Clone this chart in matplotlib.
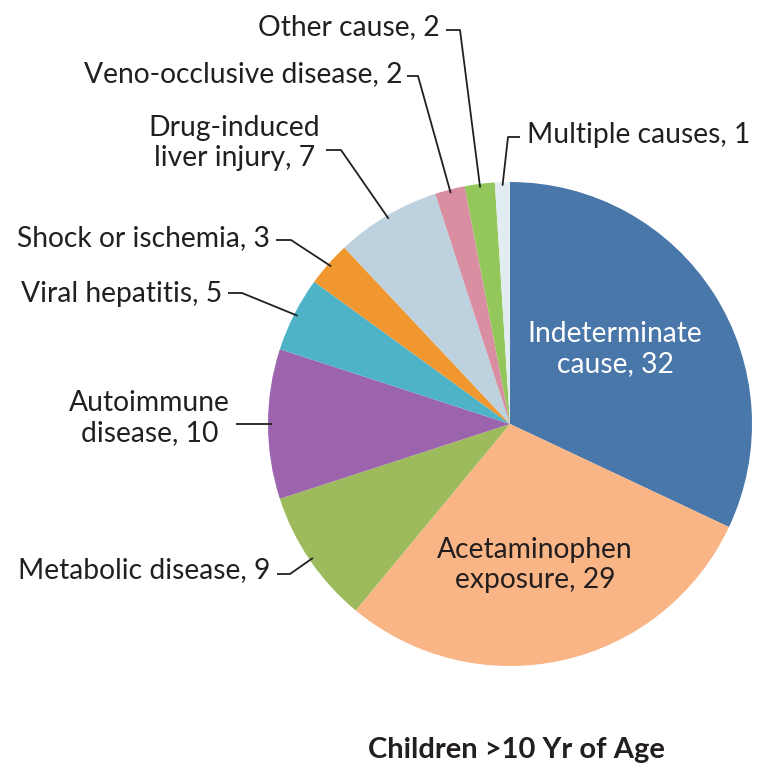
import numpy as np
import matplotlib
matplotlib.use("Agg")
import matplotlib.pyplot as plt

categories = ["Indeterminate cause", "Acetaminophen exposure", "Metabolic disease",
              "Autoimmune disease", "Viral hepatitis", "Shock or ischemia",
              "Drug-induced liver injury", "Veno-occlusive disease", "Other cause",
              "Multiple causes"]
values = [32, 29, 9, 10, 5, 3, 7, 2, 2, 1]
colors = ["#4a77a9", "#f9b585", "#9dbb5c", "#9c64ad", "#4fb3c8", "#f0982f",
          "#bdd1df", "#d98ea2", "#93c65b", "#e2edf1"]
label_texts = ["Indeterminate\ncause, 32", "Acetaminophen\nexposure, 29",
               "Metabolic disease, 9", "Autoimmune\ndisease, 10", "Viral hepatitis, 5",
               "Shock or ischemia, 3", "Drug-induced\nliver injury, 7",
               "Veno-occlusive disease, 2", "Other cause, 2", "Multiple causes, 1"]
title = "Children >10 Yr of Age"

W, H = 757, 768
fig = plt.figure(figsize=(W / 100, H / 100), dpi=100)
ax = fig.add_axes([0, 0, 1, 1])

cx, cy, r = 510, H - 424, 242
wedges, _ = ax.pie(values, colors=colors, startangle=90, counterclock=False,
                   center=(cx, cy), radius=r, frame=True,
                   wedgeprops=dict(linewidth=0))
ax.set_xlim(0, W)
ax.set_ylim(0, H)
ax.set_aspect("equal")
ax.axis("off")

FONT = "Lato"
FS = 20.3
tc = "#231f20"

def edge_point(i, frac=0.5, rr=1.0):
    w = wedges[i]
    ang = np.deg2rad(w.theta1 + frac * (w.theta2 - w.theta1))
    return cx + r * rr * np.cos(ang), cy + r * rr * np.sin(ang)

def y(p):
    return H - p

# inside labels
ax.text(615, y(349), label_texts[0], ha="center", va="center", color="white",
        fontsize=FS, family=FONT, linespacing=1.2)
ax.text(535, y(565), label_texts[1], ha="center", va="center", color=tc,
        fontsize=FS, family=FONT, linespacing=1.2)

# outside labels: (index, text anchor x, text y, ha, elbow points)
specs = [
    (2, 270, 570, "right", [(277, 574), (290, 574)]),
    (3, 230, 418, "right", [(236, 424)]),
    (4, 222, 294, "right", [(228, 293), (242, 293)]),
    (5, 270, 238, "right", [(276, 240), (291, 240)]),
    (6, 320, 143, "right", [(326, 150), (341, 150)]),
    (7, 402, 74, "right", [(407, 76), (418, 76)]),
    (8, 440, 27, "right", [(446, 30), (460, 30)]),
    (9, 527, 135, "left", [(520, 137), (508, 137)]),
]
for idx, tx, ty, ha, pts in specs:
    ax.text(tx, y(ty), label_texts[idx], ha=ha, va="center", color=tc,
            fontsize=FS, family=FONT, linespacing=1.2,
            multialignment="center" if "\n" in label_texts[idx] else ha)
    ex, ey = edge_point(idx, 0.5, 0.985)
    xs = [p[0] for p in pts] + [ex]
    ys = [y(p[1]) for p in pts] + [ey]
    if idx == 3:
        xs = [236, ex]
        ys = [ey, ey]
    ax.plot(xs, ys, color=tc, lw=1.3, solid_capstyle="butt")

ax.text(516, y(750), title, ha="center", va="center", color=tc,
        fontsize=21, family=FONT, fontweight="bold")

fig.savefig("out.png", dpi=100)
